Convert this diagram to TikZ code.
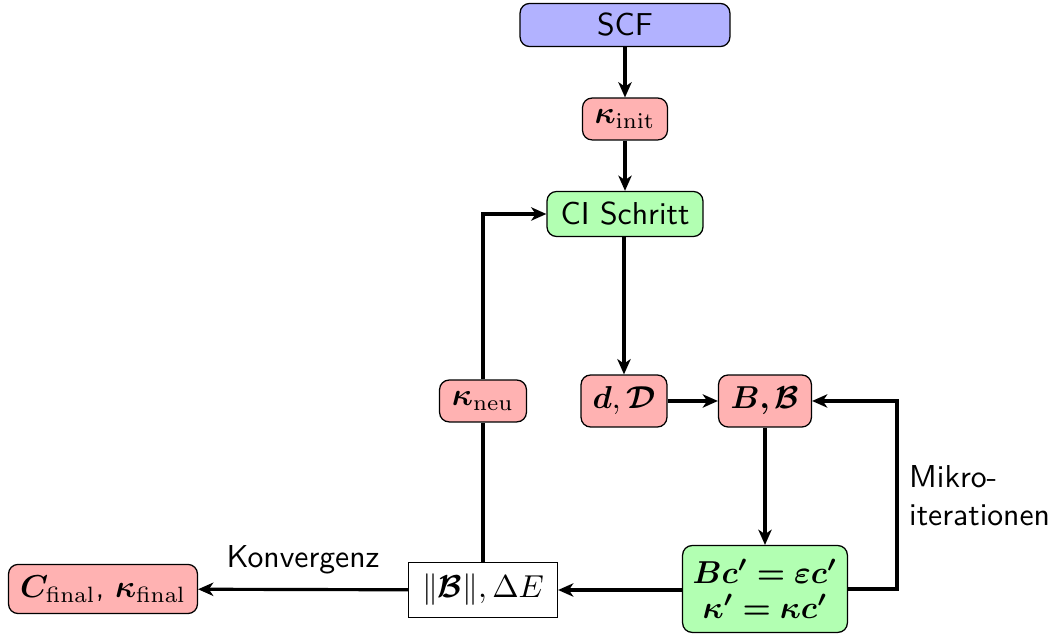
\documentclass[tikz,border=0pt]{standalone}
\usepackage{amsmath,bm}
\usetikzlibrary{arrows.meta}
\definecolor{scfblue}{RGB}{178,178,255}
\definecolor{qred}{RGB}{255,178,178}
\definecolor{qgreen}{RGB}{178,255,178}
\begin{document}
\begin{tikzpicture}[x=0.3155pt,y=-0.3155pt,
  font=\sffamily,
  box/.style={draw, rounded corners=3pt, inner sep=2pt},
  bluebox/.style={box, fill=scfblue},
  redbox/.style={box, fill=qred},
  greenbox/.style={box, fill=qgreen},
  plainbox/.style={draw, fill=white, inner sep=2pt},
  link/.style={line width=1pt},
  flow/.style={link, -{Stealth[length=4.8pt,width=4.2pt,inset=1.4pt]}}]
  \useasboundingbox (0,0) rectangle (1060,634);

  % nodes
  \node[bluebox, minimum width=66.2pt, minimum height=13.6pt] (scf) at (625,25) {SCF};
  \node[redbox, minimum width=26.8pt, minimum height=13.2pt] (kinit) at (625,119) {$\bm{\kappa}_{\mathrm{init}}$};
  \node[greenbox, minimum width=49.2pt, minimum height=14.2pt] (ci) at (625,214) {CI Schritt};
  \node[redbox, minimum width=27.1pt, minimum height=16.4pt] (dD) at (624,401) {$\bm{d}, \bm{\mathcal{D}}$};
  \node[redbox, minimum width=29.3pt, minimum height=16.4pt] (bB) at (765,401) {$\bm{B,\mathcal{B}}$};
  \node[greenbox, minimum width=52pt, minimum height=27.4pt, align=center] (eig) at (765,589)
    {$\bm{Bc'=\varepsilon c'}$\\[-1pt] $\bm{\kappa'=\kappa c'}$};
  \node[plainbox, minimum width=47pt, minimum height=17.3pt] (conv) at (483,590) {$\|\bm{\mathcal{B}}\|, \Delta E$};
  \node[redbox, minimum width=27.4pt, minimum height=13.2pt] (kneu) at (483,401) {$\bm{\kappa}_{\mathrm{neu}}$};
  \node[redbox, minimum width=59.6pt, minimum height=15.5pt] (final) at (103,589)
    {$\bm{C}_{\mathrm{final}}$, $\bm{\kappa}_{\mathrm{final}}$};

  \coordinate (loopR) at (897,589);

  % connectors
  \draw[flow] (scf) -- (kinit);
  \draw[flow] (kinit) -- (ci);
  \draw[flow] (ci.south -| dD) -- (dD);
  \draw[flow] (dD) -- (bB);
  \draw[flow] (bB) -- (eig);
  \draw[flow] (eig.east) -- (loopR) |- (bB.east);
  \draw[flow] (eig.west |- conv) -- (conv);
  \draw[flow] (conv) -- node[above=1pt] {Konvergenz} (final);
  \draw[link] (conv) -- (kneu);
  \draw[flow] (kneu) |- (ci.west);

  \node[anchor=west, align=left] (mikro) at (898,496) {Mikro-\\iterationen};
\end{tikzpicture}
\end{document}
